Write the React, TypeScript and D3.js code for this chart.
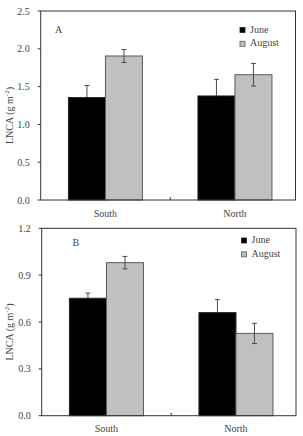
import React from "react";
import * as d3 from "d3";

// Leaf nitrogen content per area by site and sampling month
const categories = ["South", "North"];
const seasons = ["June", "August"];

// Panel A
const aJune = [1.355, 1.376];
const aJuneErr = [0.16, 0.22];
const aAugust = [1.905, 1.657];
const aAugustErr = [0.085, 0.15];
const aTicks = [0, 0.5, 1.0, 1.5, 2.0, 2.5];

// Panel B
const bJune = [0.752, 0.66];
const bJuneErr = [0.033, 0.083];
const bAugust = [0.98, 0.527];
const bAugustErr = [0.04, 0.065];
const bTicks = [0, 0.3, 0.6, 0.9, 1.2];

const FONT = "'Liberation Serif', 'Times New Roman', serif";
const W = 303;
const H = 436;

type PanelProps = {
  tag: string;
  top: number;
  bottom: number;
  left: number;
  right: number;
  ticks: number[];
  june: number[];
  juneErr: number[];
  august: number[];
  augustErr: number[];
  legendX: number;
  legendY: number;
  tagX: number;
  tagY: number;
};

function Panel(p: PanelProps) {
  const y = d3
    .scaleLinear()
    .domain([0, p.ticks[p.ticks.length - 1]])
    .range([p.bottom, p.top]);
  const x = d3
    .scaleBand<string>()
    .domain(categories)
    .range([p.left, p.left + 2 * 129.5])
    .padding(0);
  const inner = d3.scaleBand<string>().domain(seasons).range([-37, 37]).padding(0);
  const fmt = d3.format(".1f");
  const fills: Record<string, string> = { June: "#000000", August: "#c0c0c0" };
  const strokes: Record<string, string> = { June: "#222222", August: "#5a5a5a" };
  // lower whisker on the black bars blends into the fill
  const lowerStroke: Record<string, string> = { June: "#000000", August: "#4a4a4a" };
  const series: Record<string, { v: number[]; e: number[] }> = {
    June: { v: p.june, e: p.juneErr },
    August: { v: p.august, e: p.augustErr },
  };
  const midTick = p.left + x.bandwidth();
  const titleY = (p.top + p.bottom) / 2 + 10;

  return (
    <g>
      {/* bars */}
      {categories.map((c, ci) =>
        seasons.map((s) => {
          const bx = (x(c) as number) + x.bandwidth() / 2 + (inner(s) as number);
          const val = series[s].v[ci];
          return (
            <rect
              key={c + s}
              x={bx}
              y={y(val)}
              width={inner.bandwidth()}
              height={p.bottom - y(val)}
              fill={fills[s]}
              stroke={strokes[s]}
              strokeWidth={1}
            />
          );
        })
      )}
      {/* error bars */}
      {categories.map((c, ci) =>
        seasons.map((s) => {
          const cx =
            (x(c) as number) + x.bandwidth() / 2 + (inner(s) as number) + inner.bandwidth() / 2;
          const val = series[s].v[ci];
          const err = series[s].e[ci];
          const y0 = y(val);
          const y1 = y(val + err);
          const y2 = y(val - err);
          return (
            <g key={"e" + c + s} strokeWidth={1}>
              <line x1={cx} x2={cx} y1={y1} y2={y0} stroke="#4a4a4a" />
              <line x1={cx - 2.5} x2={cx + 2.5} y1={y1} y2={y1} stroke="#4a4a4a" />
              <line x1={cx} x2={cx} y1={y0} y2={y2} stroke={lowerStroke[s]} />
              <line x1={cx - 2.5} x2={cx + 2.5} y1={y2} y2={y2} stroke={lowerStroke[s]} />
            </g>
          );
        })
      )}
      {/* frame */}
      <rect
        x={p.left}
        y={p.top}
        width={p.right - p.left}
        height={p.bottom - p.top}
        fill="none"
        stroke="#333"
        strokeWidth={1}
      />
      <line x1={midTick} x2={midTick} y1={p.bottom} y2={p.bottom - 3} stroke="#333" />
      {/* y axis */}
      {p.ticks.map((t) => (
        <g key={t}>
          <line x1={p.left - 3} x2={p.left} y1={y(t)} y2={y(t)} stroke="#333" />
          <text
            x={p.left - 11}
            y={y(t)}
            dy="0.35em"
            textAnchor="end"
            fontFamily={FONT}
            fontSize={10}
            fill="#444"
          >
            {fmt(t)}
          </text>
        </g>
      ))}
      <text
        transform={`translate(${13},${titleY}) rotate(-90)`}
        textAnchor="middle"
        fontFamily={FONT}
        fontSize={10}
        fill="#444"
      >
        LNCA (g m
        <tspan dy="-4" fontSize={7}>
          -2
        </tspan>
        <tspan dy="4">)</tspan>
      </text>
      {/* category labels */}
      {categories.map((c) => (
        <text
          key={c}
          x={(x(c) as number) + x.bandwidth() / 2}
          y={p.bottom + 16.5}
          textAnchor="middle"
          fontFamily={FONT}
          fontSize={10}
          fill="#444"
        >
          {c}
        </text>
      ))}
      {/* panel tag */}
      <text x={p.tagX} y={p.tagY} fontFamily={FONT} fontSize={10} fill="#444">
        {p.tag}
      </text>
      {/* legend */}
      {seasons.map((s, i) => (
        <g key={s} transform={`translate(${p.legendX},${p.legendY + i * 13.8})`}>
          <rect x={0} y={-5} width={5} height={5} fill={fills[s]} stroke={strokes[s]} strokeWidth={0.8} />
          <text x={10} y={0} fontFamily={FONT} fontSize={10} fill="#444">
            {s}
          </text>
        </g>
      ))}
    </g>
  );
}

export default function App() {
  return (
    <svg
      width={W}
      height={H}
      viewBox={`0 0 ${W} ${H}`}
      style={{ position: "absolute", left: 0, top: 0, background: "#fff" }}
    >
      <rect width={W} height={H} fill="#fff" />
      <Panel
        tag="A"
        top={11}
        bottom={200}
        left={40.7}
        right={295.5}
        ticks={aTicks}
        june={aJune}
        juneErr={aJuneErr}
        august={aAugust}
        augustErr={aAugustErr}
        legendX={240}
        legendY={32.5}
        tagX={55}
        tagY={32.5}
      />
      <Panel
        tag="B"
        top={228.3}
        bottom={415.7}
        left={41.7}
        right={296}
        ticks={bTicks}
        june={bJune}
        juneErr={bJuneErr}
        august={bAugust}
        augustErr={bAugustErr}
        legendX={241.5}
        legendY={243}
        tagX={72.5}
        tagY={245.5}
      />
    </svg>
  );
}
